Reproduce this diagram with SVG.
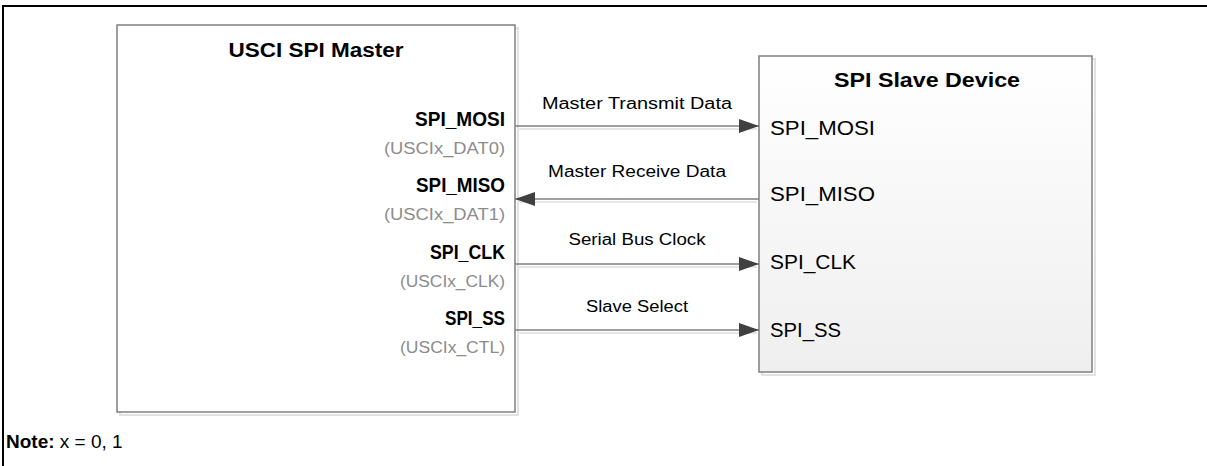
<svg xmlns="http://www.w3.org/2000/svg" width="1207" height="466" viewBox="0 0 1207 466">
<defs>
<linearGradient id="slaveFill" x1="0" y1="0" x2="0" y2="1">
<stop offset="0" stop-color="#ffffff"/>
<stop offset="1" stop-color="#efefef"/>
</linearGradient>
<marker id="arr" viewBox="0 0 20 14" refX="20" refY="7" markerWidth="20" markerHeight="14" markerUnits="userSpaceOnUse" orient="auto">
<path d="M0,0 L20,7 L0,14 Z" fill="#404040"/>
</marker>
</defs>
<style>
.frame{stroke:#000;stroke-width:2;fill:none}
.box{stroke:#7f7f7f;stroke-width:1.5}
.shadow{fill:none;stroke:#e2e2e2;stroke-width:2}
.title{font-family:"Liberation Sans",Arial,sans-serif;font-weight:bold;font-size:20px;fill:#000}
.pin{font-family:"Liberation Sans",Arial,sans-serif;font-weight:bold;font-size:20px;fill:#000;text-anchor:end}
.alt{font-family:"Liberation Sans",Arial,sans-serif;font-size:16px;fill:#8c8c8c;text-anchor:end}
.spin{font-family:"Liberation Sans",Arial,sans-serif;font-size:20px;fill:#000}
.lbl{font-family:"Liberation Sans",Arial,sans-serif;font-size:16px;fill:#000;text-anchor:middle}
.wire{stroke:#7f7f7f;stroke-width:1.5;fill:none}
.wsh{stroke:#e6e6e6;stroke-width:2;fill:none}
.note{font-family:"Liberation Sans",Arial,sans-serif;font-size:19px;fill:#000}
</style>
<rect width="1207" height="466" fill="#fff"/>
<path class="frame" d="M3,466 V6 H1207"/>

<g id="master">
<rect class="shadow" x="120" y="28" width="398" height="387"/>
<rect class="box" x="117" y="25" width="398" height="387" fill="#fff"/>
<text class="title" x="316" y="57" text-anchor="middle" textLength="175" lengthAdjust="spacingAndGlyphs">USCI SPI Master</text>
<text class="pin" x="505" y="126" textLength="90" lengthAdjust="spacingAndGlyphs">SPI_MOSI</text>
<text class="alt" x="505" y="154" textLength="121" lengthAdjust="spacingAndGlyphs">(USCIx_DAT0)</text>
<text class="pin" x="505" y="192" textLength="89" lengthAdjust="spacingAndGlyphs">SPI_MISO</text>
<text class="alt" x="505" y="220" textLength="121" lengthAdjust="spacingAndGlyphs">(USCIx_DAT1)</text>
<text class="pin" x="505" y="259" textLength="75" lengthAdjust="spacingAndGlyphs">SPI_CLK</text>
<text class="alt" x="505" y="287" textLength="105" lengthAdjust="spacingAndGlyphs">(USCIx_CLK)</text>
<text class="pin" x="505" y="325" textLength="60" lengthAdjust="spacingAndGlyphs">SPI_SS</text>
<text class="alt" x="505" y="353" textLength="105" lengthAdjust="spacingAndGlyphs">(USCIx_CTL)</text>
</g>

<g id="slave">
<rect class="shadow" x="762" y="59" width="333" height="316"/>
<rect class="box" x="759" y="56" width="333" height="316" fill="url(#slaveFill)"/>
<text class="title" x="927" y="87" text-anchor="middle" textLength="186" lengthAdjust="spacingAndGlyphs">SPI  Slave Device</text>
<text class="spin" x="770" y="135" textLength="105" lengthAdjust="spacingAndGlyphs">SPI_MOSI</text>
<text class="spin" x="770" y="201" textLength="105" lengthAdjust="spacingAndGlyphs">SPI_MISO</text>
<text class="spin" x="770" y="269" textLength="86" lengthAdjust="spacingAndGlyphs">SPI_CLK</text>
<text class="spin" x="770" y="337" textLength="71" lengthAdjust="spacingAndGlyphs">SPI_SS</text>
</g>

<g id="connectors">
<path class="wsh" d="M517,129 H757"/>
<path class="wsh" d="M517,202 H757"/>
<path class="wsh" d="M517,267 H757"/>
<path class="wsh" d="M517,333 H757"/>
<path class="wire" d="M515,126 H759" marker-end="url(#arr)"/>
<path class="wire" d="M759,199 H515" marker-end="url(#arr)"/>
<path class="wire" d="M515,264 H759" marker-end="url(#arr)"/>
<path class="wire" d="M515,330 H759" marker-end="url(#arr)"/>
<text class="lbl" x="637" y="109" textLength="190" lengthAdjust="spacingAndGlyphs">Master Transmit Data</text>
<text class="lbl" x="637" y="177" textLength="178" lengthAdjust="spacingAndGlyphs">Master Receive Data</text>
<text class="lbl" x="637" y="245" textLength="137" lengthAdjust="spacingAndGlyphs">Serial Bus Clock</text>
<text class="lbl" x="637" y="312" textLength="102" lengthAdjust="spacingAndGlyphs">Slave Select</text>
</g>

<text class="note" x="6" y="448"><tspan font-weight="bold">Note:</tspan> x = 0, 1</text>
</svg>
